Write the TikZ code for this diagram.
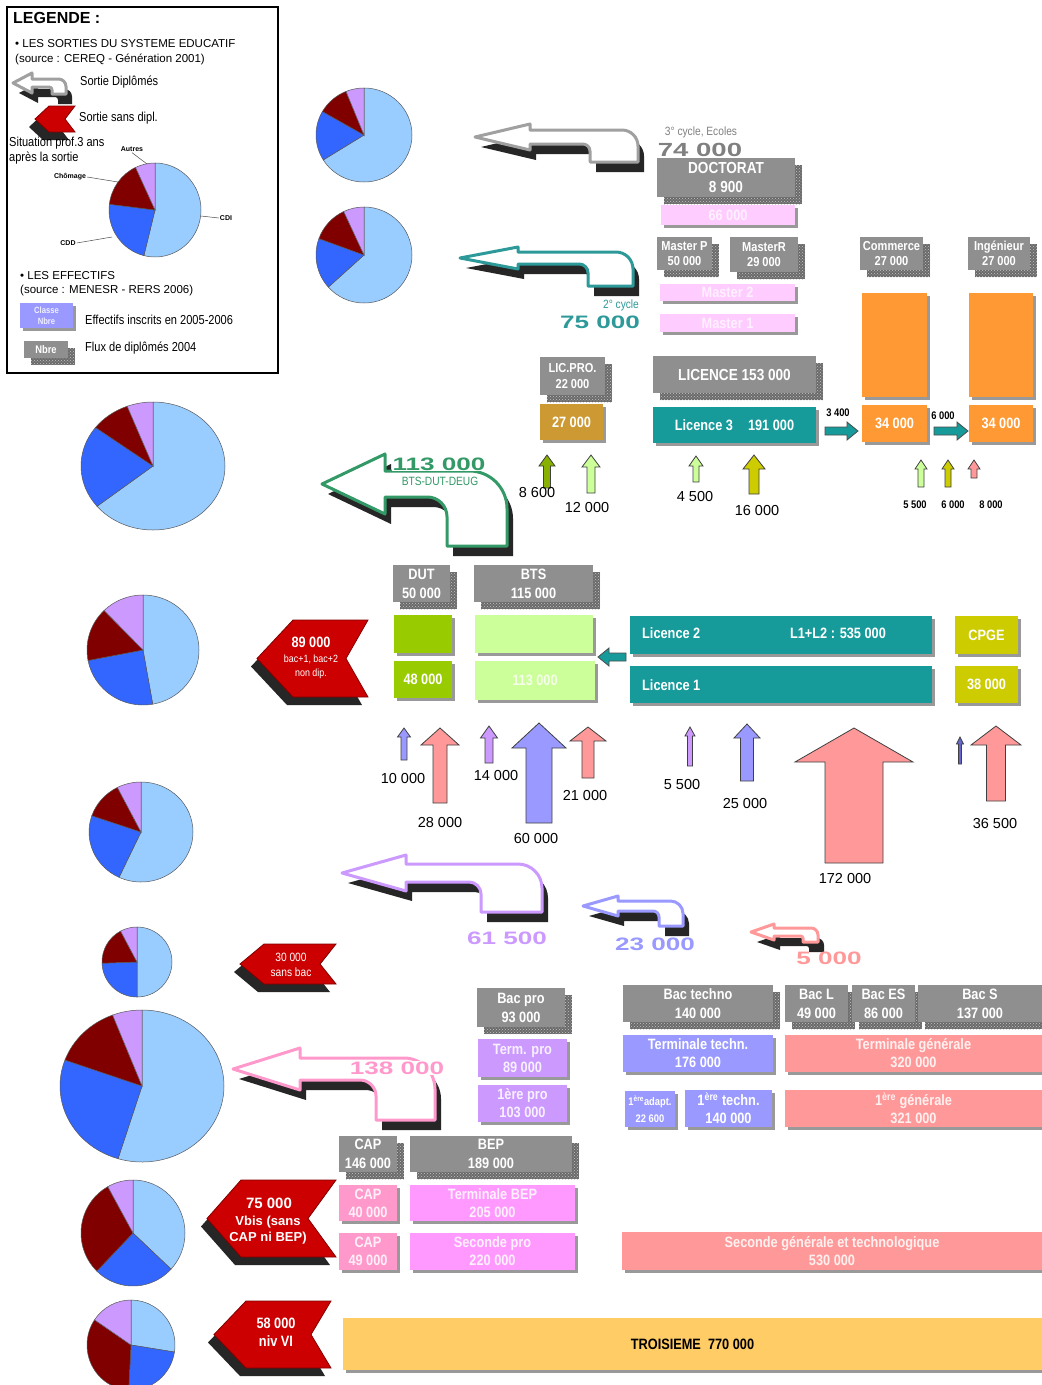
\documentclass[tikz,border=0pt]{standalone}
\usepackage{fontspec}
\setmainfont{Liberation Sans}
\newfontfamily\nar[FakeStretch=0.85]{Liberation Sans}
\newfontfamily\wid[FakeStretch=1.45]{Liberation Sans}
\usetikzlibrary{patterns}
\definecolor{cdi}{HTML}{99CCFF}
\definecolor{cdd}{HTML}{3366FF}
\definecolor{chom}{HTML}{800000}
\definecolor{autr}{HTML}{CC99FF}
\definecolor{gbx}{HTML}{8F8F8F}
\definecolor{gsh}{HTML}{6A6A6A}
\definecolor{pinkM}{HTML}{FFCCFF}
\definecolor{orng}{HTML}{FF9933}
\definecolor{ochre}{HTML}{CC9933}
\definecolor{teal2}{HTML}{169A9A}
\definecolor{oliv}{HTML}{99CC00}
\definecolor{lgrn}{HTML}{CCFF99}
\definecolor{yel}{HTML}{CCCC00}
\definecolor{blu}{HTML}{9999FF}
\definecolor{rose}{HTML}{FF9999}
\definecolor{lil}{HTML}{CC99FF}
\definecolor{pkcap}{HTML}{FF99CC}
\definecolor{pkbep}{HTML}{FF99FF}
\definecolor{troi}{HTML}{FFCC66}
\definecolor{redc}{HTML}{CC0000}
\definecolor{grnA}{HTML}{339966}
\definecolor{tealA}{HTML}{2E9999}
\definecolor{greyA}{HTML}{A0A0A0}
\definecolor{greyT}{HTML}{808080}
\definecolor{pinkA}{HTML}{FF99CC}
\definecolor{oliveA}{HTML}{88B000}
\definecolor{darkblu}{HTML}{6666CC}
\newcommand\myfs[2]{\fontsize{#1}{#2}\selectfont}
% grey "flux" box with stippled shadow
\newcommand\mygbox[7]{%
 \fill[gsh] (#2+7,#3+7) rectangle (#4+7,#5+7);
 \fill[pattern=crosshatch dots,pattern color=gray!45] (#2+7,#3+7) rectangle (#4+7,#5+7);
 \fill[gbx] (#2,#3) rectangle (#4,#5);
 \node[btxt,font=\nar\bfseries #6] (#1) at ({(#2+#4)/2},{(#3+#5)/2}) {#7};}
% coloured "effectifs" box
\newcommand\mycbox[8]{%
 \fill[black!40] (#3+3,#4+3) rectangle (#5+3,#6+3);
 \fill[#2] (#3,#4) rectangle (#5,#6);
 \node[btxt,#7] (#1) at ({(#3+#5)/2},{(#4+#6)/2}) {#8};}
% pie wedge, angles clockwise from top
\newcommand\mywedge[7]{%
 \filldraw[fill=#1,draw=gray!70!black,line width=0.5] (#2,#3) -- ++({#6-90}:#4 and #5) arc[start angle={#6-90},end angle={#7-90},x radius=#4,y radius=#5] -- cycle;}
\newcommand\mypie[8]{%
 \coordinate (#1) at (#2,#3);
 \mywedge{cdi}{#2}{#3}{#4}{#5}{0}{#6}
 \mywedge{cdd}{#2}{#3}{#4}{#5}{#6}{#7}
 \mywedge{chom}{#2}{#3}{#4}{#5}{#7}{#8}
 \mywedge{autr}{#2}{#3}{#4}{#5}{#8}{360}}
% U-turn arrow: color tipx tipy headback headhalf shafthalf outerx innerx bottomy
\newcommand\myuturn[9]{%
 \pgfmathsetmacro\uTa{#3-#6}%
 \pgfmathsetmacro\uTb{#3+#6}%
 \pgfmathsetmacro\uRo{0.5*(#9-\uTa)}%
 \pgfmathsetmacro\uRi{0.4*(#9-\uTb)}%
 \begin{scope}[shift={(6,10)}]
 \fill[black!85] (#2,#3) -- (#4,{#3-#5}) -- (#4,\uTa) -- ({#7-\uRo},\uTa) .. controls ({#7-0.45*\uRo},\uTa) and (#7,{\uTa+0.45*\uRo}) .. (#7,{\uTa+\uRo}) -- (#7,#9) -- (#8,#9) -- (#8,{\uTb+\uRi}) .. controls (#8,{\uTb+0.45*\uRi}) and ({#8-0.45*\uRi},\uTb) .. ({#8-\uRi},\uTb) -- (#4,\uTb) -- (#4,{#3+#5}) -- cycle;
 \end{scope}
 \filldraw[fill=white,draw=#1,line width=3,line join=round] (#2,#3) -- (#4,{#3-#5}) -- (#4,\uTa) -- ({#7-\uRo},\uTa) .. controls ({#7-0.45*\uRo},\uTa) and (#7,{\uTa+0.45*\uRo}) .. (#7,{\uTa+\uRo}) -- (#7,#9) -- (#8,#9) -- (#8,{\uTb+\uRi}) .. controls (#8,{\uTb+0.45*\uRi}) and ({#8-0.45*\uRi},\uTb) .. ({#8-\uRi},\uTb) -- (#4,\uTb) -- (#4,{#3+#5}) -- cycle;}
% red chevron: name tipx top bottom right depth notch
\newcommand\mychev[7]{%
 \pgfmathsetmacro\chM{(#3+#4)/2}%
 \begin{scope}[shift={(-6,8)}]
 \fill[black!85] (#2,\chM) -- ({#2+#6},#3) -- (#5,#3) -- ({#5-#7},\chM) -- (#5,#4) -- ({#2+#6},#4) -- cycle;
 \end{scope}
 \filldraw[fill=redc,draw=black!50!red,line width=0.8] (#2,\chM) -- ({#2+#6},#3) -- (#5,#3) -- ({#5-#7},\chM) -- (#5,#4) -- ({#2+#6},#4) -- cycle;
 \coordinate (#1) at ({(#2+#5)/2},\chM);}
% block up arrow: color x top bottom shafthalf headhalf headheight
\newcommand\myup[7]{%
 \filldraw[fill=#1,draw=black!75,line width=0.8] ({#2-#5},#4) -- ({#2-#5},{#3+#7}) -- ({#2-#6},{#3+#7}) -- (#2,#3) -- ({#2+#6},{#3+#7}) -- ({#2+#5},{#3+#7}) -- ({#2+#5},#4) -- cycle;}
% small teal right arrow: x1 x2 y
\newcommand\myrarr[3]{%
 \filldraw[fill=teal2,draw=black!70,line width=0.8] (#1,{#3-4}) -- ({#2-11},{#3-4}) -- ({#2-11},{#3-9}) -- (#2,#3) -- ({#2-11},{#3+9}) -- ({#2-11},{#3+4}) -- (#1,{#3+4}) -- cycle;}
\begin{document}
\begin{tikzpicture}[x=1pt,y=-1pt,
 btxt/.style={text=white,align=center,inner sep=0pt},
 lbl/.style={font=\myfs{14.5}{16},inner sep=0pt},
 slbl/.style={font=\nar\bfseries\myfs{11}{13},inner sep=0pt},
 bignum/.style={font=\wid\bfseries\myfs{18}{20},inner sep=0pt},
 ltxt/.style={anchor=west,inner sep=0pt,font=\myfs{11.5}{13}},
 lntxt/.style={anchor=west,inner sep=0pt,font=\nar\myfs{13}{15}},
 ctxt/.style={text=white,font=\nar\bfseries\myfs{15}{18}},
]
\path[use as bounding box] (0,0) rectangle (1042,1385);
\clip (0,0) rectangle (1042,1385);
\fill[white] (0,0) rectangle (1042,1385);

% ---------------- LEGEND ----------------
\draw[line width=1.2] (7,7) rectangle (278,373);
\node[anchor=west,inner sep=0pt,font=\bfseries\myfs{16}{18}] (lgtitle) at (13,18) {LEGENDE :};
\node[ltxt] (lgs1) at (15,44) {\textbullet\ LES SORTIES DU SYSTEME EDUCATIF};
\node[ltxt] (lgs2) at (15,59) {(source : CEREQ - Génération 2001)};
\myuturn{greyA}{13}{83}{32}{10}{4}{66}{52}{94}
\node[lntxt] (lgdip) at (80,82) {Sortie Diplômés};
\mychev{lgchev}{35}{106}{132}{75}{14}{10}
\node[lntxt] (lgsans) at (79,118) {Sortie sans dipl.};
\node[lntxt,align=left] (lgsit) at (9,151) {Situation prof.3 ans\\après la sortie};
\mypie{lgpie}{155}{210}{46}{47}{194}{277}{335}
\node[font=\bfseries\myfs{7}{8},inner sep=1pt] (lgaut) at (132,149) {Autres};
\node[font=\bfseries\myfs{7}{8},inner sep=1pt] (lgcho) at (70,177) {Chômage};
\node[font=\bfseries\myfs{7}{8},inner sep=1pt] (lgcdd) at (68,243) {CDD};
\node[font=\bfseries\myfs{7}{8},inner sep=1pt] (lgcdi) at (226,218) {CDI};
\draw[gray!60!black,line width=0.5] (lgaut.south) -- (147,164);
\draw[gray!60!black,line width=0.5] (lgcho.east) -- (118,182);
\draw[gray!60!black,line width=0.5] (lgcdd.east) -- (112,237);
\draw[gray!60!black,line width=0.5] (lgcdi.west) -- (201,216);
\node[ltxt] (lge1) at (20,276) {\textbullet\ LES EFFECTIFS};
\node[ltxt] (lge2) at (20,291) {(source : MENESR - RERS 2006)};
\mycbox{lgcls}{blu}{20}{303}{73}{328}{font=\nar\bfseries\myfs{9}{11},text=white!85!blu}{Classe\\Nbre}
\node[lntxt] (lgeff) at (85,320) {Effectifs inscrits en 2005-2006};
\mygbox{lgnbre}{24}{341}{68}{358}{\myfs{11}{13}}{Nbre}
\node[lntxt] (lgflux) at (85,348) {Flux de diplômés 2004};

% ---------------- PIES ----------------
\mypie{p1}{364}{135}{48}{47}{238}{300}{338}
\mypie{p2}{364}{255}{48}{48}{228}{290}{335}
\mypie{p3}{153}{466}{72}{64}{231}{307}{339}
\mypie{p4}{143}{650}{56}{55}{170}{259}{316}
\mypie{p5}{141}{832}{52}{50}{205}{289}{333}
\mypie{p6}{137}{962}{35}{35}{180}{268}{332}
\mypie{p7}{142}{1086}{82}{76}{197}{290}{339}
\mypie{p8}{133}{1233}{52}{53}{133}{224}{331}
\mypie{p9}{131}{1345}{44}{45}{99}{183}{304}

% ---------------- CURVED EXIT ARROWS ----------------
\myuturn{greyA}{475}{137}{530}{13}{7}{638}{590}{162}
\node[font=\nar\myfs{12}{14},text=greyT,inner sep=0pt] (c3lbl) at (701,132) {3° cycle, Ecoles};
\node[bignum,text=greyT,font=\wid\bfseries\myfs{19}{20}] (c3num) at (700,150) {74 000};

\myuturn{tealA}{460}{258}{518}{11}{6}{633}{588}{286}
\node[font=\nar\myfs{12}{14},text=tealA,inner sep=0pt] (c2lbl) at (621,305) {2° cycle};
\node[bignum,text=tealA] (c2num) at (600,322) {75 000};

\myuturn{grnA}{322}{484}{385}{30}{13}{507}{447}{546}
\node[bignum,text=grnA,fill=white,inner sep=1pt] (bnum) at (439,464) {113 000};
\node[font=\nar\myfs{12}{14},text=grnA,inner sep=0pt] (blbl) at (440,481) {BTS-DUT-DEUG};

\myuturn{lil}{342}{873}{406}{18}{9}{542}{481}{912}
\node[bignum,text=lil] (n615) at (507,938) {61 500};
\myuturn{blu}{583}{906}{618}{10}{5}{683}{659}{926}
\node[bignum,text=blu] (n23) at (655,944) {23 000};
\myuturn{rose}{751}{932}{774}{8}{4}{818}{803}{942}
\node[bignum,text=rose] (n5) at (829,958) {5 000};
\myuturn{pinkA}{233}{1069}{300}{21}{11}{435}{376}{1120}
\node[bignum,text=pinkA,fill=white,inner sep=1pt] (n138) at (397,1068) {138 000};

% ---------------- RED CHEVRONS ----------------
\mychev{ch89}{257}{620}{697}{368}{36}{22}
\node[btxt,font=\nar\bfseries\myfs{15}{17}] (t89) at (311,642) {89 000};
\node[btxt,font=\nar\myfs{10.5}{14}] (t89b) at (311,667) {bac+1, bac+2\\non dip.};
\mychev{ch30}{240}{944}{984}{336}{24}{16}
\node[btxt,font=\nar\myfs{12}{15}] (t30) at (291,965) {30 000\\sans bac};
\mychev{ch75}{207}{1180}{1257}{336}{34}{28}
\node[btxt,font=\bfseries\myfs{15}{17}] (t75) at (269,1203) {75 000};
\node[btxt,font=\bfseries\myfs{13}{16}] (t75b) at (268,1230) {Vbis (sans\\CAP ni BEP)};
\mychev{ch58}{214}{1301}{1368}{331}{32}{20}
\node[btxt,font=\nar\bfseries\myfs{15}{18}] (t58) at (276,1332) {58 000\\niv VI};

% ---------------- DOCTORAT / MASTER ----------------
\mygbox{doct}{657}{158}{795}{197}{\myfs{16}{19}}{DOCTORAT\\8 900}
\mycbox{d66}{pinkM}{661}{205}{795}{225}{ctxt,text=white!70!pinkM}{66 000}
\mygbox{mp}{657}{237}{712}{270}{\myfs{13}{15}}{Master P\\50 000}
\mygbox{mr}{730}{237}{798}{272}{\myfs{13}{15}}{MasterR\\29 000}
\mycbox{m2}{pinkM}{660}{284}{795}{301}{ctxt,text=white!70!pinkM}{Master 2}
\mycbox{m1}{pinkM}{660}{314}{795}{332}{ctxt,text=white!70!pinkM}{Master 1}

% ---------------- ECOLES ----------------
\mygbox{comm}{860}{237}{923}{270}{\myfs{13}{15}}{Commerce\\27 000}
\mygbox{ing}{968}{237}{1030}{270}{\myfs{13}{15}}{Ingénieur\\27 000}
\mycbox{or1}{orng}{862}{293}{927}{397}{}{}
\mycbox{or2}{orng}{969}{293}{1033}{397}{}{}
\mycbox{or3}{orng}{862}{405}{927}{442}{ctxt}{34 000}
\mycbox{or4}{orng}{969}{405}{1033}{442}{ctxt}{34 000}

% ---------------- LICENCE ----------------
\mygbox{lpro}{540}{357}{605}{395}{\myfs{13}{16}}{LIC.PRO.\\22 000}
\mycbox{lp27}{ochre}{540}{404}{603}{440}{ctxt}{27 000}
\mygbox{lic}{653}{356}{816}{393}{\myfs{16}{18}}{LICENCE 153 000}
\mycbox{l3}{teal2}{653}{407}{816}{443}{ctxt}{Licence 3\quad 191 000}
\myrarr{825}{858}{431}
\node[slbl] (a34) at (838,413) {3 400};
\myrarr{934}{968}{431}
\node[slbl] (a60) at (943,416) {6 000};

\myup{oliveA}{547}{455}{488}{3.5}{8}{11}
\node[lbl] (u86) at (537,493) {8 600};
\myup{lgrn}{591}{455}{493}{4}{9}{12}
\node[lbl] (u12) at (587,507) {12 000};
\myup{lgrn}{696}{456}{482}{3}{7}{10}
\node[lbl] (u45) at (695,497) {4 500};
\myup{yel}{754}{455}{494}{5}{11}{14}
\node[lbl] (u16) at (757,510) {16 000};
\myup{lgrn}{921}{460}{487}{3}{6}{9}
\node[slbl] (u55) at (915,505) {5 500};
\myup{yel}{948}{460}{487}{3}{6}{9}
\node[slbl] (u60) at (953,505) {6 000};
\myup{rose}{974}{460}{478}{3}{6}{9}
\node[slbl] (u80) at (991,505) {8 000};

% ---------------- BTS / DUT / L1 L2 / CPGE ----------------
\mygbox{dut}{393}{565}{450}{602}{\myfs{15}{19}}{DUT\\50 000}
\mygbox{bts}{474}{565}{593}{602}{\myfs{15}{19}}{BTS\\115 000}
\mycbox{dut2}{oliv}{394}{615}{452}{653}{}{}
\mycbox{dut1}{oliv}{394}{661}{452}{698}{ctxt}{48 000}
\mycbox{bts2}{lgrn}{475}{615}{593}{653}{}{}
\mycbox{bts1}{lgrn}{475}{661}{595}{700}{ctxt,text=white!80!lgrn}{113 000}
\mycbox{l2}{teal2}{630}{616}{932}{654}{}{}
\node[ctxt,anchor=west,inner sep=0pt] (l2a) at (642,633) {Licence 2};
\node[ctxt,inner sep=0pt] (l2b) at (838,633) {L1+L2 : 535 000};
\mycbox{l1}{teal2}{630}{666}{932}{703}{}{}
\node[ctxt,anchor=west,inner sep=0pt] (l1a) at (642,685) {Licence 1};
\filldraw[fill=teal2,draw=black!70,line width=0.8] (626,653) -- (609,653) -- (609,648) -- (598,657) -- (609,666) -- (609,661) -- (626,661) -- cycle;
\mycbox{cp2}{yel}{955}{616}{1018}{654}{ctxt}{CPGE}
\mycbox{cp1}{yel}{955}{666}{1018}{703}{ctxt}{38 000}

\myup{blu}{404}{728}{760}{3}{6.5}{9}
\node[lbl] (v10) at (403,778) {10 000};
\myup{rose}{440}{728}{803}{7}{19}{17}
\node[lbl] (v28) at (440,822) {28 000};
\myup{lil}{489}{726}{763}{4}{8.5}{12}
\node[lbl] (v14) at (496,775) {14 000};
\myup{blu}{539}{723}{823}{13}{27}{25}
\node[lbl] (v60) at (536,838) {60 000};
\myup{rose}{588}{727}{778}{6}{18}{14}
\node[lbl] (v21) at (585,795) {21 000};
\myup{lil}{690}{727}{766}{2.5}{5}{9}
\node[lbl] (v55) at (682,784) {5 500};
\myup{blu}{747}{724}{781}{6.5}{13}{14}
\node[lbl] (v25) at (745,803) {25 000};
\myup{rose}{854}{728}{863}{29}{59}{34}
\node[lbl] (v172) at (845,878) {172 000};
\myup{darkblu}{960}{737}{764}{1.5}{3.5}{7}
\myup{rose}{996}{726}{801}{9.5}{25}{19}
\node[lbl] (v365) at (995,823) {36 500};

% ---------------- LYCEE ----------------
\mygbox{bpro}{477}{988}{565}{1027}{\myfs{15}{19}}{Bac pro\\93 000}
\mycbox{tpro}{lil}{478}{1039}{567}{1077}{ctxt,text=white!85!lil}{Term. pro\\89 000}
\mycbox{ppro}{lil}{478}{1085}{567}{1122}{ctxt,text=white!85!lil}{1ère pro\\103 000}
\mygbox{btec}{623}{985}{773}{1022}{\myfs{15}{19}}{Bac techno\\140 000}
\mygbox{bl}{785}{985}{848}{1022}{\myfs{15}{19}}{Bac L\\49 000}
\mygbox{bes}{852}{985}{915}{1022}{\myfs{15}{19}}{Bac ES\\86 000}
\mygbox{bs}{918}{985}{1042}{1022}{\myfs{15}{19}}{Bac S\\137 000}
\mycbox{ttec}{blu}{623}{1035}{773}{1072}{ctxt}{Terminale techn.\\176 000}
\mycbox{tgen}{rose}{785}{1035}{1042}{1072}{ctxt,text=white!85!rose}{Terminale générale\\320 000}
\mycbox{pada}{blu}{625}{1091}{675}{1127}{font=\nar\bfseries\myfs{11}{17}}{1\textsuperscript{ère}adapt.\\22 600}
\mycbox{ptec}{blu}{685}{1090}{772}{1127}{ctxt}{1\textsuperscript{ère} techn.\\140 000}
\mycbox{pgen}{rose}{785}{1090}{1042}{1127}{ctxt,text=white!85!rose}{1\textsuperscript{ère} générale\\321 000}
\mygbox{capg}{339}{1136}{397}{1172}{\myfs{15}{19}}{CAP\\146 000}
\mygbox{bepg}{410}{1136}{572}{1172}{\myfs{15}{19}}{BEP\\189 000}
\mycbox{cap40}{pkcap}{339}{1185}{397}{1221}{ctxt,text=white!85!pkcap}{CAP\\40 000}
\mycbox{tbep}{pkbep}{410}{1185}{575}{1221}{ctxt,text=white!85!pkbep}{Terminale BEP\\205 000}
\mycbox{cap49}{pkcap}{339}{1233}{397}{1270}{ctxt,text=white!85!pkcap}{CAP\\49 000}
\mycbox{spro}{pkbep}{410}{1233}{575}{1270}{ctxt,text=white!85!pkbep}{Seconde pro\\220 000}
\mycbox{sgen}{rose}{622}{1232}{1042}{1270}{ctxt,text=white!85!rose}{Seconde générale et technologique\\530 000}
\mycbox{troi}{troi}{343}{1318}{1042}{1370}{text=black,font=\nar\bfseries\myfs{15}{18}}{TROISIEME\ \ 770 000}
\end{tikzpicture}
\end{document}
